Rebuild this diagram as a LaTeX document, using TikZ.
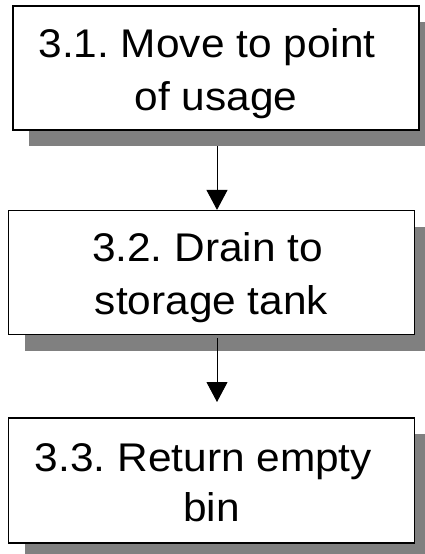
\documentclass[tikz,border=0pt]{standalone}
\usepackage{fontspec}
\setmainfont{Liberation Sans}[FakeStretch=1.06]
\usetikzlibrary{arrows.meta,shadows}
\frenchspacing
\begin{document}
\begin{tikzpicture}[x=1pt,y=-1pt,
  procbox/.style={draw=black,line width=1.2pt,fill=white,minimum width=406pt,
    inner sep=0pt,align=center,font=\fontsize{40}{53}\selectfont,
    drop shadow={shadow xshift=16pt,shadow yshift=-16pt,fill=black!50,opacity=1}},
  flow/.style={line width=1pt,-{Triangle[length=20pt,width=21pt]}}]
\useasboundingbox (0,0) rectangle (425,554);
\node[procbox,minimum height=124pt] (b1) at (216,68) {\rule{0pt}{40pt}3.1. Move to point\kern18pt\\of usage};
\node[procbox,minimum height=124pt] (b2) at (211.5,272.5) {\rule{0pt}{40pt}3.2. Drain to\kern8pt\\storage tank};
\node[procbox,minimum height=125pt,font=\fontsize{40}{50}\selectfont] (b3) at (211.5,480.5) {\rule{0pt}{33pt}3.3. Return empty\kern16pt\\bin};
\coordinate (s1) at (217,146);
\coordinate (s2) at (217,338);
\coordinate (e2) at (217,402);
\draw[flow] (s1) -- (s1 |- b2.north);
\draw[flow] (s2) -- (e2);
\end{tikzpicture}
\end{document}
